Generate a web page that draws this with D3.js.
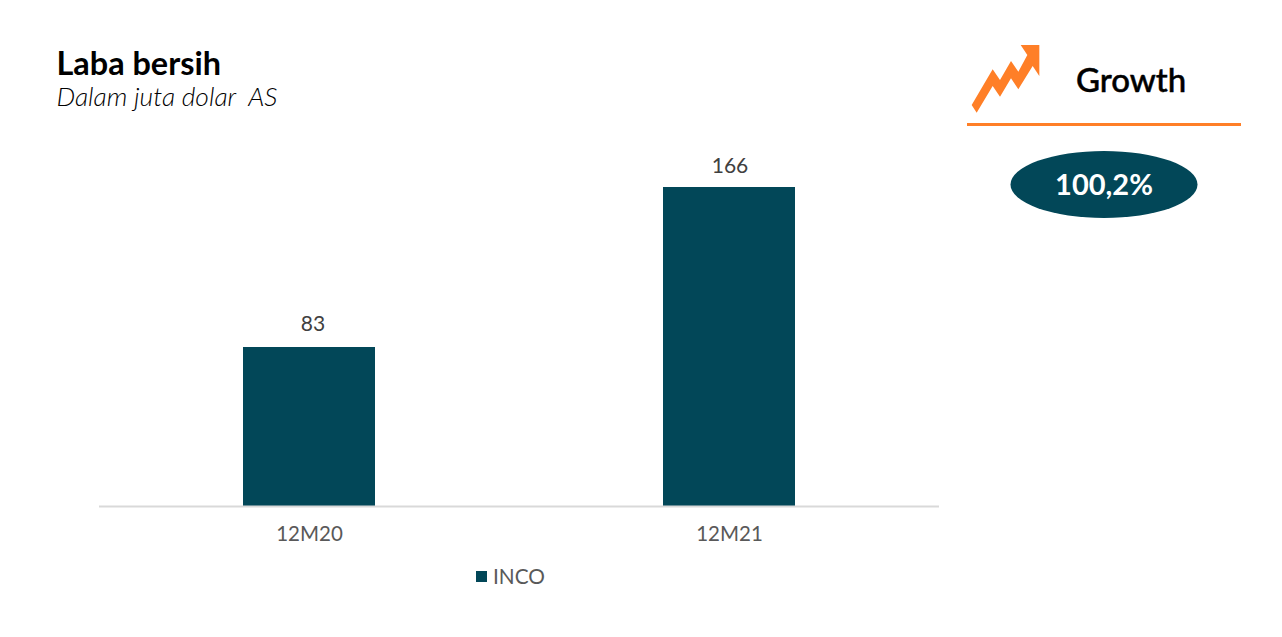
<!DOCTYPE html>
<html><head><meta charset="utf-8">
<script src="https://cdn.jsdelivr.net/npm/d3@7"></script>
<style>html,body{margin:0;padding:0;background:#fff}svg{display:block}text{font-family:Lato,sans-serif}</style>
</head><body><svg id="c" width="1282" height="637"></svg>
<script>
const categories = ["12M20", "12M21"];
const seriesName = "INCO";
const values = [83, 166];
const valueLabels = ["83", "166"];
const titleText = "Laba bersih";
const subtitleText = "Dalam juta dolar  AS";
const growthText = "Growth";
const growthValue = "100,2%";
const arrowShape = [[65,225],[128,118],[150,150],[183,93],[205,125],[232,75],[212,45],[268,45],[268,138],[248,108],[205,178],[183,145],[150,200],[128,168],[80,248]];

const teal = "#024758", orange = "#FF7F27", grey = "#595959";
const svg = d3.select("#c");
const x = d3.scaleBand().domain(categories).range([99, 939]).paddingInner(0).paddingOuter(0);
const y = d3.scaleLinear().domain([0, 166]).range([506, 187]);
const barW = 132;

svg.append("g").selectAll("rect").data(values).join("rect")
  .attr("x", (d,i) => x(categories[i]) + x.bandwidth()/2 - barW/2)
  .attr("y", d => Math.round(y(d))).attr("width", barW).attr("height", d => y(0) - Math.round(y(d))).attr("fill", teal);

const axis = svg.append("g").attr("transform", "translate(0,506.5)")
  .call(d3.axisBottom(x).tickSize(0).tickPadding(0).offset(0));
axis.select(".domain").attr("stroke", "#D9D9D9").attr("stroke-width", 2);
axis.selectAll("text").attr("y", 0).attr("dy", 0).attr("transform", "translate(0.5,34.5)")
  .attr("fill", grey).attr("font-size", 20.5).style("font-family", "Lato");

const labelNudge = [4, 1];
svg.append("g").selectAll("text").data(values).join("text")
  .attr("x", (d,i) => x(categories[i]) + x.bandwidth()/2 + labelNudge[i])
  .attr("y", (d,i) => y(d) - (i === 0 ? 16 : 14.5)).attr("text-anchor", "middle")
  .attr("fill", "#404040").attr("font-size", 21).text((d,i) => valueLabels[i]);

svg.append("rect").attr("x", 476).attr("y", 571).attr("width", 11).attr("height", 11).attr("fill", teal);
svg.append("text").attr("x", 493).attr("y", 584).attr("fill", grey).attr("font-size", 20.8).text(seriesName);

svg.append("text").attr("x", 56.5).attr("y", 75).attr("fill", "#000").attr("font-size", 32.4).attr("font-weight", 700).text(titleText);
svg.append("text").attr("x", 56.5).attr("y", 106).attr("fill", "#000").attr("font-size", 26.4).attr("font-style", "italic").attr("font-weight", 300).style("white-space","pre").text(subtitleText);

svg.append("polygon").attr("points", arrowShape.map(p => [950 + p[0]/3, 30 + p[1]/3].join(",")).join(" ")).attr("fill", orange);
svg.append("text").attr("x", 1076).attr("y", 92).attr("fill", "#000").attr("stroke", "#000").attr("stroke-width", 0.5).attr("font-size", 33).attr("font-weight", 500).text(growthText);
svg.append("rect").attr("x", 967).attr("y", 123).attr("width", 274).attr("height", 3).attr("fill", orange);
svg.append("ellipse").attr("cx", 1104).attr("cy", 184.5).attr("rx", 93.5).attr("ry", 33.5).attr("fill", teal);
svg.append("text").attr("x", 1104).attr("y", 195).attr("text-anchor", "middle").attr("fill", "#fff").attr("font-size", 29).attr("font-weight", 700).text(growthValue);
</script></body></html>
